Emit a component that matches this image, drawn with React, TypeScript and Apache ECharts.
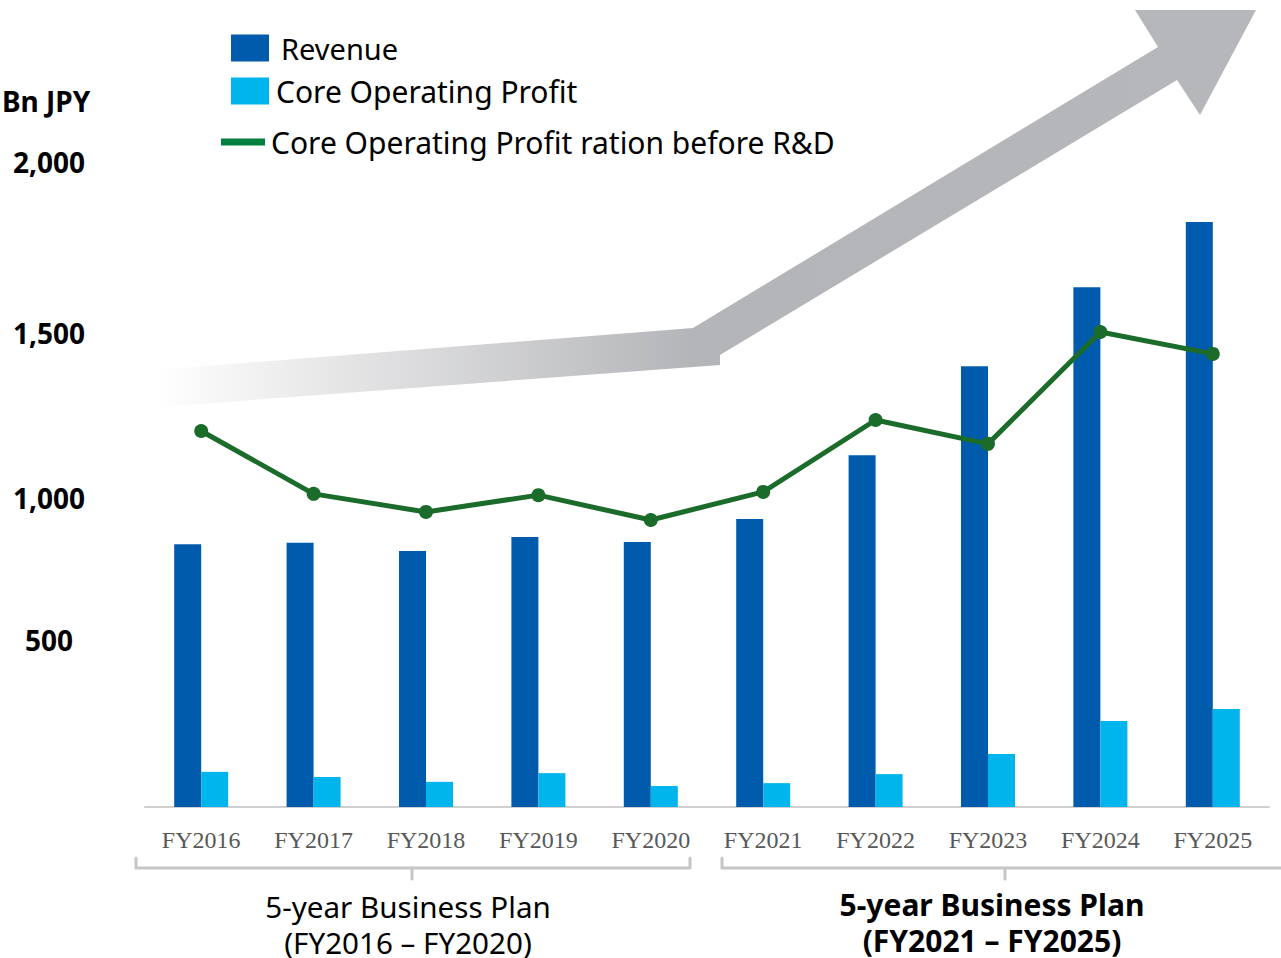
import React, { useEffect, useRef } from "react";
import * as echarts from "echarts";

const categories = ["FY2016", "FY2017", "FY2018", "FY2019", "FY2020", "FY2021", "FY2022", "FY2023", "FY2024", "FY2025"];
const revenue = [815, 819, 794, 837, 822, 893, 1091, 1367, 1612, 1814];
const coreOperatingProfit = [109, 93, 78, 105, 65, 74, 102, 164, 267, 304];
const ratioBeforeRD = [1166, 971, 915, 967, 890, 977, 1200, 1126, 1473, 1405];
const yTickLabels: Record<number, string> = { 500: "500", 1000: "1,000", 1500: "1,500", 2000: "2,000" };

const SANS = "'Noto Sans', 'Open Sans', sans-serif";

export default function App() {
  const ref = useRef<HTMLDivElement>(null);
  useEffect(() => {
    if (!ref.current) return;
    const chart = echarts.init(ref.current, undefined, { renderer: "svg" });
    const arrowFill = new echarts.graphic.LinearGradient(0, 0, 1, 0, [
      { offset: 0, color: "#ffffff" },
      { offset: 0.49, color: "#b4b5b8" },
      { offset: 1, color: "#b6b7ba" },
    ]);
    const bracketStyle = { stroke: "#c6c6c6", lineWidth: 3, fill: "none", lineJoin: "round", lineCap: "round" };
    chart.setOption({
      animation: false,
      backgroundColor: "#ffffff",
      grid: { left: 145, right: 12, top: 162, bottom: 151, containLabel: false },
      legend: [
        {
          data: ["Revenue"], left: 231, top: 32, padding: 0, itemWidth: 38, itemHeight: 27, icon: "rect",
          textStyle: { fontSize: 29, lineHeight: 32, fontFamily: SANS, color: "#000", padding: [0, 0, 0, 7] },
        },
        {
          data: ["Core Operating Profit"], left: 231, top: 75, padding: 0, itemWidth: 38, itemHeight: 27, icon: "rect",
          textStyle: { fontSize: 30, lineHeight: 32, fontFamily: SANS, color: "#000", padding: [0, 0, 0, 2] },
        },
        {
          data: [{ name: "Core Operating Profit ration before R&D", itemStyle: { color: "#00803f" } }],
          left: 221, top: 126, padding: 0, itemWidth: 44, itemHeight: 7, icon: "rect",
          textStyle: { fontSize: 30, lineHeight: 32, fontFamily: SANS, color: "#000", padding: [0, 0, 0, 1] },
        },
      ],
      xAxis: {
        type: "category",
        data: categories,
        axisLine: { show: true, lineStyle: { color: "#d0d0d0", width: 2 } },
        axisTick: { show: false },
        axisLabel: { margin: 21, fontSize: 24, fontFamily: "'Liberation Serif', 'Times New Roman', serif", color: "#585858" },
      },
      yAxis: {
        type: "value",
        min: 0,
        max: 2000,
        interval: 500,
        splitLine: { show: false },
        axisLine: { show: false },
        axisTick: { show: false },
        axisLabel: {
          align: "center",
          margin: 96,
          formatter: (v: number) => {
            const t = yTickLabels[v];
            if (!t) return "";
            if (v === 1000) return `{s| }\n{v|${t}}`;
            if (v === 1500) return `{t| }\n{v|${t}}`;
            if (v === 500) return `{v|${t}}\n{u| }`;
            return `{v|${t}}`;
          },
          rich: {
            v: { fontSize: 28, fontWeight: "bold", fontFamily: SANS, color: "#000", lineHeight: 30, align: "center" },
            s: { fontSize: 1, lineHeight: 26 },
            t: { fontSize: 1, lineHeight: 20 },
            u: { fontSize: 1, lineHeight: 12 },
          },
        },
      },
      series: [
        {
          name: "Revenue", type: "bar", data: revenue, barWidth: 27, barGap: "0%",
          itemStyle: { color: "#005bac" }, z: 2,
        },
        {
          name: "Core Operating Profit", type: "bar", data: coreOperatingProfit, barWidth: 27, barGap: "0%",
          itemStyle: { color: "#00b4ec" }, z: 2,
        },
        {
          name: "Core Operating Profit ration before R&D", type: "line", data: ratioBeforeRD,
          symbol: "circle", symbolSize: 14, lineStyle: { color: "#1b6b2b", width: 5 },
          itemStyle: { color: "#1b6b2b" }, z: 5,
        },
      ],
      graphic: [
        {
          type: "polygon", z: -10, silent: true,
          shape: {
            points: [
              [155, 370], [693, 328], [1158, 47], [1135, 10], [1256, 10], [1200, 115],
              [1177, 80], [720, 355], [720, 365], [158, 407],
            ],
          },
          style: { fill: arrowFill },
        },
        {
          type: "text", left: 2, top: 87,
          style: { text: "Bn JPY", fontSize: 28, fontWeight: "bold", fontFamily: SANS, fill: "#000" },
        },
        { type: "polyline", shape: { points: [[136, 858], [136, 868], [690, 868], [690, 858]] }, style: bracketStyle },
        { type: "line", shape: { x1: 412, y1: 868, x2: 412, y2: 879 }, style: bracketStyle },
        { type: "polyline", shape: { points: [[722, 858], [722, 868], [1285, 868]] }, style: bracketStyle },
        { type: "line", shape: { x1: 1005, y1: 868, x2: 1005, y2: 879 }, style: bracketStyle },
        {
          type: "text", x: 408, y: 924,
          style: {
            text: "5-year Business Plan\n(FY2016 – FY2020)", fontSize: 29.6, lineHeight: 36, fontFamily: SANS,
            fill: "#000", align: "center", verticalAlign: "middle",
          },
        },
        {
          type: "text", x: 992, y: 922,
          style: {
            text: "5-year Business Plan\n(FY2021 – FY2025)", fontSize: 30, lineHeight: 36, fontWeight: "bold", fontFamily: SANS,
            fill: "#000", align: "center", verticalAlign: "middle",
          },
        },
      ],
    });
    return () => chart.dispose();
  }, []);
  return <div ref={ref} style={{ position: "fixed", left: 0, top: 0, width: 1281, height: 958 }} />;
}
